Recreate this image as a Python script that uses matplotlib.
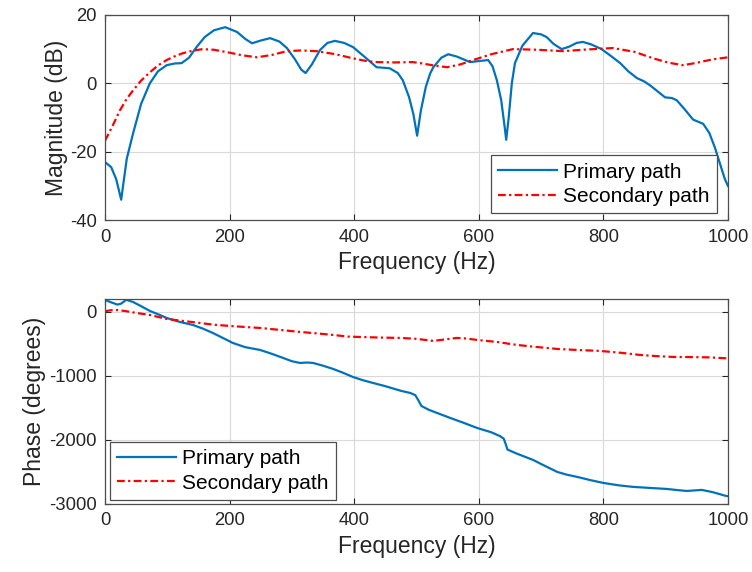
import numpy as np
import matplotlib
matplotlib.use("Agg")
import matplotlib.pyplot as plt

# magnitude (dB)
f_mag_p = [0, 10, 18, 26, 35, 45, 58, 72, 85, 99, 112, 123, 135, 147, 160, 175, 193,
           212, 225, 236, 250, 265, 280, 292, 305, 315, 322, 332, 345, 357, 369, 384,
           398, 415, 436, 457, 470, 478, 488, 495, 501, 507, 515, 522, 527, 540, 551,
           565, 586, 600, 615, 622, 629, 636, 641, 644, 648, 653, 658, 670, 687, 700,
           709, 720, 733, 745, 757, 767, 780, 797, 812, 827, 840, 854, 865, 875, 888,
           899, 910, 918, 930, 944, 953, 960, 970, 979, 988, 995, 1000]
mag_p = [-23, -24.5, -28, -34, -22, -14.7, -6, 0, 3.5, 5.3, 5.8, 5.9, 7.5, 10.6, 13.5,
         15.5, 16.4, 15, 13, 11.7, 12.5, 13.2, 12.2, 10.3, 7, 4, 3, 5.5, 9.7, 11.8, 12.4,
         11.8, 10.6, 8, 4.7, 4.4, 3, 0.9, -4, -9, -15.3, -8, -1, 2.9, 4.7, 7.5, 8.5, 7.8,
         6.2, 6.5, 6.8, 5, 0.9, -5, -12, -16.5, -10, 0, 5.9, 11, 14.7, 14.3, 13.5, 11.5,
         10, 10.7, 11.8, 12.1, 11.4, 10, 8, 5.9, 3.5, 1.5, 0.6, -0.6, -2.5, -4.1, -4.3,
         -5, -7.5, -10.6, -11.3, -11.8, -14.5, -18.8, -24, -28, -30]

f_mag_s = [0, 12, 24, 35, 45, 58, 72, 85, 99, 112, 125, 140, 157, 175, 196, 220, 244,
           268, 292, 315, 340, 370, 398, 420, 436, 465, 494, 506, 525, 549, 570, 591,
           620, 655, 695, 735, 775, 815, 850, 880, 905, 928, 950, 975, 1000]
mag_s = [-16.8, -12.5, -7.9, -4.5, -2.1, 0.8, 3.2, 5.2, 6.8, 7.9, 8.8, 9.5, 10, 9.8,
         9.1, 8.2, 7.6, 8.3, 9.4, 9.6, 9.4, 8.5, 7.3, 6.5, 6.2, 6.1, 6.2, 5.9, 5.3, 4.7,
         5.5, 6.8, 8.5, 10, 9.8, 9.4, 9.9, 10.3, 9.2, 7.3, 6, 5.3, 6, 7, 7.6]

# phase (degrees)
f_ph_p = [0, 10, 20, 26, 34, 45, 58, 72, 88, 99, 120, 141, 157, 173, 190, 205, 225,
          249, 268, 286, 300, 313, 325, 334, 350, 366, 382, 398, 415, 430, 450, 474,
          490, 498, 503, 508, 520, 554, 575, 597, 620, 634, 640, 643, 646, 660, 687,
          705, 726, 740, 758, 780, 800, 825, 848, 875, 902, 920, 934, 958, 975, 995, 1000]
ph_p = [187, 150, 115, 130, 190, 156, 90, 16, -47, -94, -156, -203, -260, -328, -410,
        -484, -550, -594, -655, -719, -770, -797, -790, -797, -840, -890, -950, -1016,
        -1070, -1109, -1160, -1230, -1266, -1300, -1380, -1470, -1530, -1656, -1730,
        -1812, -1880, -1940, -1980, -2060, -2150, -2210, -2312, -2400, -2500, -2540,
        -2578, -2630, -2672, -2710, -2734, -2750, -2766, -2785, -2797, -2781, -2815,
        -2870, -2880]

f_ph_s = [0, 8, 18, 32, 50, 72, 99, 125, 152, 175, 201, 225, 249, 280, 313, 340, 366,
          390, 409, 440, 474, 500, 527, 545, 565, 580, 597, 630, 661, 690, 726, 760,
          795, 830, 859, 885, 912, 940, 970, 1000]
ph_s = [10, 25, 31, 15, -15, -47, -109, -140, -172, -200, -219, -235, -250, -280, -312,
        -335, -359, -385, -391, -400, -406, -420, -453, -430, -406, -415, -437, -470,
        -515, -545, -578, -595, -609, -640, -672, -690, -703, -705, -710, -725]

plt.rcParams['font.family'] = ['Liberation Sans', 'DejaVu Sans']
plt.rcParams['axes.unicode_minus'] = False

BLUE = '#0072BD'
EDGE = '#262626'
DASHDOT = (0, (3.5, 1.5, 1, 1.5))


def style(ax):
    ax.set_xlim(0, 1000)
    ax.grid(True, color='#d9d9d9', linewidth=0.8)
    ax.tick_params(direction='in', top=True, right=True, labelsize=13.3,
                   colors=EDGE, length=4, pad=6)
    for s in ax.spines.values():
        s.set_color('#4d4d4d')
        s.set_linewidth(0.9)
    ax.set_xticks([0, 200, 400, 600, 800, 1000])
    ax.set_xlabel('Frequency (Hz)', fontsize=16.5, color=EDGE)


def add_legend(ax, loc, anchor):
    leg = ax.legend(loc=loc, bbox_to_anchor=anchor, borderaxespad=0,
                    fontsize=15, fancybox=False, framealpha=1, handlelength=2.8,
                    edgecolor='#4d4d4d', borderpad=0.35, labelspacing=0.25,
                    handletextpad=0.3)
    leg.get_frame().set_linewidth(0.9)


def main():
    fig = plt.figure(figsize=(7.52, 5.72), dpi=100)
    ax1 = fig.add_axes([0.1396, 0.615, 0.8285, 0.359])
    ax2 = fig.add_axes([0.1396, 0.119, 0.8285, 0.358])

    ax1.plot(f_mag_p, mag_p, color=BLUE, lw=1.6, label='Primary path')
    ax1.plot(f_mag_s, mag_s, color='r', lw=1.6, ls=DASHDOT, label='Secondary path')
    style(ax1)
    ax1.set_ylim(-40, 20)
    ax1.set_yticks([-40, -20, 0, 20])
    ax1.set_ylabel('Magnitude (dB)', fontsize=16.5, color=EDGE, labelpad=1)
    add_legend(ax1, 'lower right', (0.982, 0.034))

    ax2.plot(f_ph_p, ph_p, color=BLUE, lw=1.6, label='Primary path')
    ax2.plot(f_ph_s, ph_s, color='r', lw=1.6, ls=DASHDOT, label='Secondary path')
    style(ax2)
    ax2.set_ylim(-3000, 200)
    ax2.set_yticks([-3000, -2000, -1000, 0])
    ax2.set_ylabel('Phase (degrees)', fontsize=16.5, color=EDGE, labelpad=2)
    add_legend(ax2, 'lower left', (0.008, 0.02))

    fig.savefig('out.png', dpi=100)


if __name__ == '__main__':
    main()
